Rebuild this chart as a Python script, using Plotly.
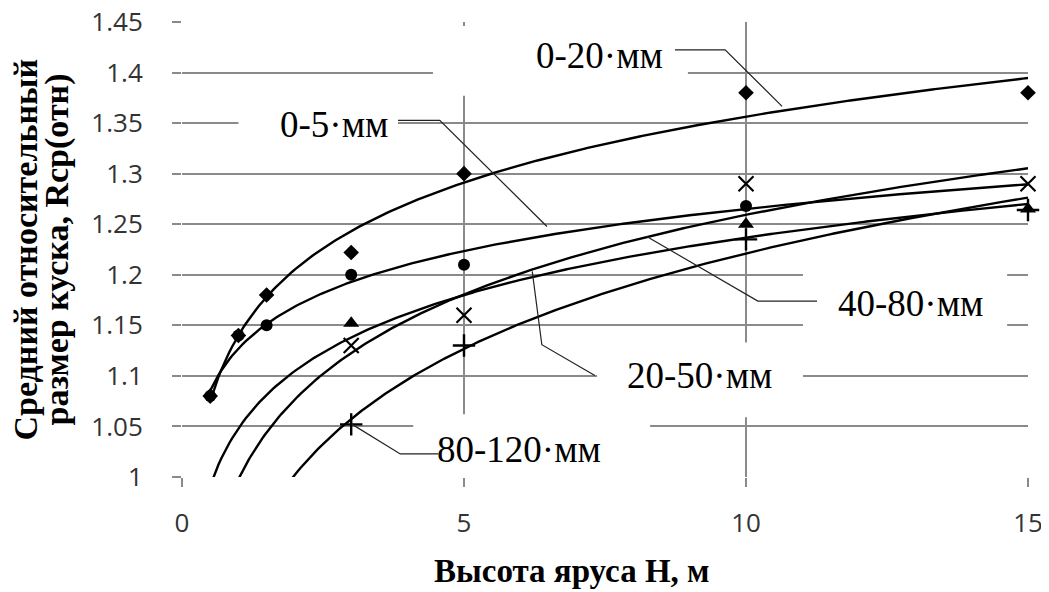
import numpy as np
import plotly.graph_objects as go

# data
h_diamond = [0.5, 1, 1.5, 3, 5, 10, 15]
r_diamond = [1.08, 1.14, 1.18, 1.222, 1.30, 1.38, 1.38]      # 0-20 мм
h_circle = [0.5, 1, 1.5, 3, 5, 10]
r_circle = [1.08, 1.14, 1.15, 1.20, 1.21, 1.268]              # 0-5 мм
h_tri = [3, 10, 15]
r_tri = [1.152, 1.25, 1.265]                                  # 20-50 мм
h_x = [3, 5, 10, 15]
r_x = [1.13, 1.16, 1.29, 1.29]                                # 40-80 мм
h_plus = [3, 5, 10, 15]
r_plus = [1.052, 1.13, 1.235, 1.264]                          # 80-120 мм

# logarithmic trendlines  R = a*ln(H) + b
trend_names = ["0-20 мм", "0-5 мм", "20-50 мм", "40-80 мм", "80-120 мм"]
trend_a = [0.094, 0.060, 0.082, 0.1135, 0.136]
trend_b = [1.140, 1.127, 1.048, 0.998, 0.908]

label_text = ["0-20·мм", "0-5·мм", "40-80·мм", "20-50·мм", "80-120·мм"]
label_x = [7.41, 2.70, 12.91, 9.18, 5.98]
label_y = [1.4166, 1.349, 1.172, 1.1004, 1.0268]

y_ticks = [1, 1.05, 1.1, 1.15, 1.2, 1.25, 1.3, 1.35, 1.4, 1.45]
y_ticktext = ["1", "1.05", "1.1", "1.15", "1.2", "1.25", "1.3", "1.35", "1.4", "1.45"]
x_ticks = [0, 5, 10, 15]

fig = go.Figure()

hh = np.linspace(0.5, 15, 300)
for a, b, n in zip(trend_a, trend_b, trend_names):
    fig.add_trace(go.Scatter(x=hh, y=a * np.log(hh) + b, mode="lines",
                             line=dict(color="black", width=2.4), name=n))

fig.add_trace(go.Scatter(x=h_plus, y=r_plus, mode="markers", cliponaxis=False,
                         marker=dict(symbol="cross-thin-open", size=16, color="black",
                                     line=dict(color="black", width=2.4))))
fig.add_trace(go.Scatter(x=h_tri, y=r_tri, mode="markers", cliponaxis=False,
                         marker=dict(symbol="triangle-up", size=14, color="black")))
fig.add_trace(go.Scatter(x=h_x, y=r_x, mode="markers", cliponaxis=False,
                         marker=dict(symbol="x-thin-open", size=15, color="black",
                                     line=dict(color="black", width=2.2))))
fig.add_trace(go.Scatter(x=h_diamond, y=r_diamond, mode="markers", cliponaxis=False,
                         marker=dict(symbol="diamond", size=12, color="black")))
fig.add_trace(go.Scatter(x=h_circle, y=r_circle, mode="markers", cliponaxis=False,
                         marker=dict(symbol="circle", size=12, color="black")))

# white label boxes hide the grid behind the labels
boxes = [(4.45, 8.97, 1.377, 1.446), (1.0, 3.83, 1.322, 1.375), (11.01, 14.63, 1.133, 1.216),
         (7.36, 11.01, 1.059, 1.133), (4.10, 8.30, 0.99, 1.062)]
for x0, x1, y0, y1 in boxes:
    fig.add_shape(type="rect", x0=x0, x1=x1, y0=y0, y1=y1, layer="between",
                  fillcolor="white", line=dict(width=0))

# leader lines
leaders = [
    [(8.74, 1.4225), (9.63, 1.4225), (10.64, 1.3665)],
    [(3.83, 1.3528), (4.57, 1.3528), (6.47, 1.2477)],
    [(8.24, 1.2379), (10.21, 1.174), (11.26, 1.174)],
    [(6.21, 1.2034), (6.38, 1.1309), (7.32, 1.1004)],
    [(3.01, 1.0523), (3.87, 1.0228), (4.54, 1.0228)],
]
for pts in leaders:
    path = "M " + " L ".join(f"{x},{y}" for x, y in pts)
    fig.add_shape(type="path", path=path, line=dict(color="#222", width=1.2))

for t, x, y in zip(label_text, label_x, label_y):
    fig.add_annotation(x=x, y=y, text=t, showarrow=False, xanchor="center", yanchor="middle",
                       font=dict(family="Liberation Serif", size=37, color="black"))

serif_b = dict(family="Liberation Serif", size=34, color="black")
fig.add_annotation(xref="paper", yref="paper", x=-0.1844, y=0.5, textangle=-90,
                   text="<b>Средний относительный</b>", showarrow=False,
                   xanchor="center", yanchor="middle", font=serif_b)
fig.add_annotation(xref="paper", yref="paper", x=-0.1489, y=0.5, textangle=-90,
                   text="<b>размер куска, Rср(отн)</b>", showarrow=False,
                   xanchor="center", yanchor="middle", font=serif_b)
fig.add_annotation(xref="paper", yref="paper", x=0.461, y=-0.2066,
                   text="<b>Высота яруса H, м</b>", showarrow=False,
                   xanchor="center", yanchor="middle",
                   font=dict(family="Liberation Serif", size=33, color="black"))

grid = "#8a8a8a"
tick_font = dict(family="Open Sans", size=26, color="#333")
fig.update_xaxes(range=[0, 15], tickvals=x_ticks, showgrid=True, gridcolor=grid, gridwidth=2,
                 zeroline=False, showline=False, ticks="outside", ticklen=9, tickwidth=2,
                 tickcolor=grid, ticklabelstandoff=14, tickfont=tick_font,
                 ticklabeloverflow="allow", automargin=False)
fig.update_yaxes(range=[1, 1.45], tickvals=y_ticks, ticktext=y_ticktext, showgrid=True,
                 gridcolor=grid, gridwidth=2, zeroline=False, showline=False, ticks="outside",
                 ticklen=9, tickwidth=2, tickcolor=grid, ticklabelstandoff=24, tickfont=tick_font,
                 ticklabeloverflow="allow", automargin=False)

# page adds an 8px body margin, so the figure is 8px smaller and shifted
fig.update_layout(width=1041, height=584, showlegend=False,
                  margin=dict(l=174, r=21, t=14, b=115),
                  plot_bgcolor="white", paper_bgcolor="white")

fig.write_html("out.html")
